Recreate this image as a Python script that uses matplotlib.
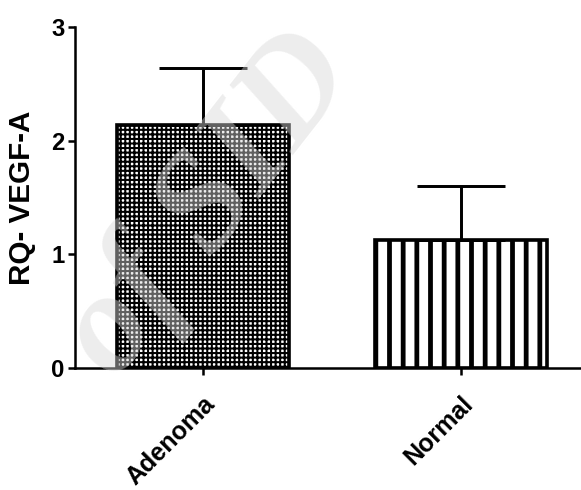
import matplotlib
matplotlib.use("Agg")
import matplotlib.pyplot as plt

categories = ["Adenoma", "Normal"]
means = [2.14, 1.13]
sem = [0.50, 0.47]
yticks = [0, 1, 2, 3]
ylabel = "RQ- VEGF-A"

DPI = 82
plt.rcParams['font.family'] = ['Liberation Sans', 'DejaVu Sans']
plt.rcParams['font.weight'] = 'bold'

fig = plt.figure(figsize=(581 / DPI, 490 / DPI), dpi=DPI)
ax = fig.add_axes([75 / 581, 122 / 490, 1 - 75 / 581, (368 - 27) / 490])

x = list(range(len(categories)))
hatches = ["+++", "|"]
hlw = [1.8, 4.2]
for i in x:
    bars = ax.bar(i, means[i], width=0.667, color="white", edgecolor="black",
                  linewidth=3.2, hatch=hatches[i], zorder=2)
    for b in bars:
        try:
            b.set_hatch_linewidth(hlw[i])
        except AttributeError:
            pass
    ax.errorbar(i, means[i], yerr=[[0], [sem[i]]], fmt="none", ecolor="black",
                elinewidth=2.6, capsize=38.5, capthick=2.6, zorder=3)

ax.set_ylim(0, 3)
ax.set_xlim(-0.496, 1.465)
ax.set_yticks(yticks)
ax.set_yticklabels([str(t) for t in yticks], fontsize=21, fontweight="bold")
ax.set_xticks(x)
ax.set_xticklabels(categories, rotation=45, ha="right", rotation_mode="anchor",
                   fontsize=22, fontweight="bold")
ax.set_ylabel(ylabel, fontsize=26, fontweight="bold")
ax.yaxis.set_label_coords(-0.077, 0.5)

for s in ["top", "right"]:
    ax.spines[s].set_visible(False)
for s in ["left", "bottom"]:
    ax.spines[s].set_linewidth(2.2)
ax.tick_params(axis="both", direction="out", length=6, width=2.2, pad=3)
ax.tick_params(axis="x", pad=15)

# faint watermark overlay
fig.text(0.36, 0.58, "of SID", fontsize=125, color="#d8d8d8", alpha=0.45,
         rotation=52, ha="center", va="center", family="Liberation Serif",
         fontstyle="italic", fontweight="bold", zorder=10)

fig.savefig("out.png", dpi=DPI)
